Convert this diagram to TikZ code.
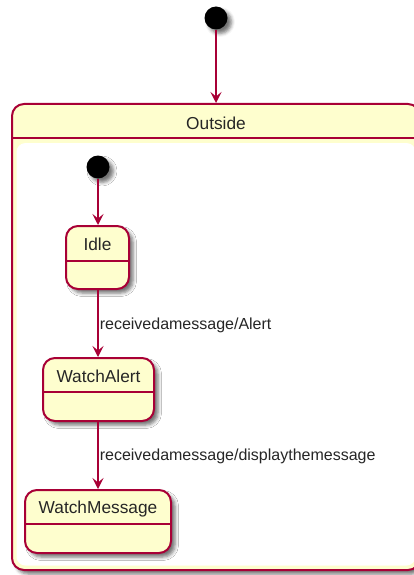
\documentclass[tikz,border=0pt]{standalone}
\usepackage{fontspec}
\setmainfont{Liberation Sans}
\usetikzlibrary{shadows.blur,arrows.meta}
\definecolor{pborder}{HTML}{A80036}
\definecolor{pfill}{HTML}{FEFECE}
\tikzset{
  shad/.style={blur shadow={shadow xshift=4pt, shadow yshift=-4pt, shadow blur radius=3.5pt, shadow opacity=55}},
  statebox/.style={draw=pborder, line width=2pt, fill=pfill, rounded corners=12pt, shad, inner sep=0pt},
  statetext/.style={font=\fontsize{17.3}{20}\selectfont, inner sep=0pt, text=black!85},
  sepline/.style={draw=pborder, line width=1.8pt},
  initnode/.style={circle, fill=black, minimum size=23pt, inner sep=0pt, shad},
  trans/.style={draw=pborder, line width=1.6pt, -{Stealth[length=11pt, width=11pt, inset=4.5pt]}},
  lbl/.style={font=\fontsize{16}{19}\selectfont, inner sep=1pt, text=black!85},
}
\begin{document}
\begin{tikzpicture}[x=1pt, y=-1pt]
\useasboundingbox (0,0) rectangle (414,575);
\clip (0,0) rectangle (414,575);
% outer composite state
\node[statebox, minimum width=408pt, minimum height=466pt] (outside) at (216,337) {};
\fill[white, rounded corners=9pt] (16.5,143) rectangle (415.5,565.5);
\draw[sepline] (outside.north west |- 0,138) -- (outside.north east |- 0,138);
\node[statetext] (outsidetext) at (216,123) {Outside};
% top initial
\node[initnode] (init) at (216,18) {};
\draw[trans] (init) -- (outside.north);
% inner initial
\node[initnode] (init2) at (98,167) {};
% states
\node[statebox, minimum width=63pt, minimum height=63pt] (idle) at (97.5,257.5) {};
\draw[sepline] ([yshift=-36pt]idle.north west) -- ([yshift=-36pt]idle.north east);
\node[statetext] (idletext) at ([yshift=-19.5pt]idle.north) {Idle};

\node[statebox, minimum width=111pt, minimum height=63pt] (alert) at (98.5,389.5) {};
\draw[sepline] ([yshift=-35pt]alert.north west) -- ([yshift=-35pt]alert.north east);
\node[statetext] (alerttext) at ([yshift=-19.5pt]alert.north) {WatchAlert};

\node[statebox, minimum width=146pt, minimum height=63pt] (msg) at (98,521.5) {};
\draw[sepline] ([yshift=-35pt]msg.north west) -- ([yshift=-35pt]msg.north east);
\node[statetext] (msgtext) at ([yshift=-20pt]msg.north) {WatchMessage};
% transitions
\draw[trans] (init2) -- (init2 |- idle.north);
\draw[trans] (idle.south -| init2) -- node[lbl, right, yshift=-2pt] {receivedamessage/Alert} (init2 |- alert.north);
\draw[trans] (alert.south -| init2) -- node[lbl, right, yshift=-1pt] {receivedamessage/displaythemessage} (init2 |- msg.north);
\end{tikzpicture}
\end{document}
